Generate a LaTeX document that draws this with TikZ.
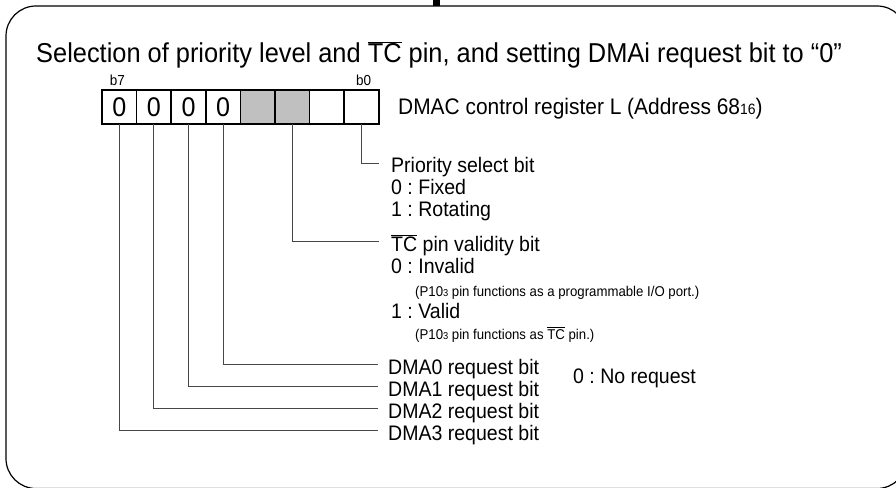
\documentclass[tikz,border=0pt]{standalone}
\usepackage{fontspec}
\setmainfont{Liberation Sans}[FakeStretch=0.93]
\usetikzlibrary{positioning}
\definecolor{regGray}{RGB}{192,192,192}
\definecolor{leadGray}{RGB}{70,70,70}
\newcommand{\tcbar}{$\overline{\mbox{TC}}$}
\newcommand{\lowdig}[2]{{\fontsize{#1}{#1}\selectfont #2}}
\frenchspacing
\tikzset{
	regcell/.style={rectangle, draw=black, line width=1.6pt, outer sep=0pt, inner sep=0pt,
		minimum width=34.6pt, minimum height=34pt, font=\fontsize{27}{27}\selectfont},
	bitnum/.style={font=\fontsize{14.5}{14.5}\selectfont, inner sep=0pt},
	desc/.style={anchor=base west, inner sep=0pt, font=\fontsize{21}{21}\selectfont},
	note/.style={anchor=base west, inner sep=0pt, font=\fontsize{14.2}{14.2}\selectfont},
	leader/.style={draw=leadGray, line width=1pt}
}
\begin{document}
\begin{tikzpicture}[x=1pt, y=-1pt]
	\useasboundingbox (0,0) rectangle (896,487);
	% frame
	\draw[line width=1.2pt, rounded corners=30pt] (6,6) rectangle (907,488.5);
	\fill (433,0) rectangle (440,6);
	\node[anchor=base west, inner sep=0pt, font=\fontsize{27.3}{27.3}\selectfont] (title) at (36,63)
		{Selection of priority level and \tcbar{} pin, and setting DMAi request bit to “0”};
	% register
	\node[regcell, anchor=north west] (r7) at (102,90) {0};
	\node[regcell, right=0pt of r7] (r6) {0};
	\node[regcell, right=0pt of r6] (r5) {0};
	\node[regcell, right=0pt of r5] (r4) {0};
	\node[regcell, right=0pt of r4, fill=regGray] (r3) {};
	\node[regcell, right=0pt of r3, fill=regGray] (r2) {};
	\node[regcell, right=0pt of r2] (r1) {};
	\node[regcell, right=0pt of r1] (r0) {};
	\node[bitnum, above=4pt of r7, xshift=-2pt] (lb7) {b7};
	\node[bitnum, above=4pt of r0, xshift=2pt] (lb0) {b0};
	\node[desc, font=\fontsize{22.5}{22.5}\selectfont] (regname) at (398,114)
		{DMAC control register L (Address 68\lowdig{15}{16})};
	% bit 0
	\node[desc] (prio) at (391,172.5) {Priority select bit};
	\node[desc] (prio0) at (391,194.5) {0 : Fixed};
	\node[desc] (prio1) at (391,216.5) {1 : Rotating};
	\draw[leader] (r0.south) |- ([xshift=-12pt, yshift=9.5pt]prio.base west);
	% bit 2
	\node[desc] (tcv) at (391,251) {\tcbar{} pin validity bit};
	\node[desc] (tcv0) at (391,273.3) {0 : Invalid};
	\node[note] (tcv0n) at (415,296) {(P10\lowdig{10}{3} pin functions as a programmable I/O port.)};
	\node[desc] (tcv1) at (391,318) {1 : Valid};
	\node[note] (tcv1n) at (415,339) {(P10\lowdig{10}{3} pin functions as \tcbar{} pin.)};
	\draw[leader] (r2.south) |- ([xshift=-12pt, yshift=9.5pt]tcv.base west);
	% bits 4-7
	\foreach \k in {0,...,3}
		\node[desc] (dma\k) at (388,{374.5+22*\k}) {DMA\k\ request bit};
	\foreach \k [evaluate=\k as \b using int(\k+4)] in {0,...,3}
		\draw[leader] (r\b.south) |- ([xshift=-10pt, yshift=10.5pt]dma\k.base west);
	\node[desc] (noreq) at (573,383) {0 : No request};
\end{tikzpicture}
\end{document}
